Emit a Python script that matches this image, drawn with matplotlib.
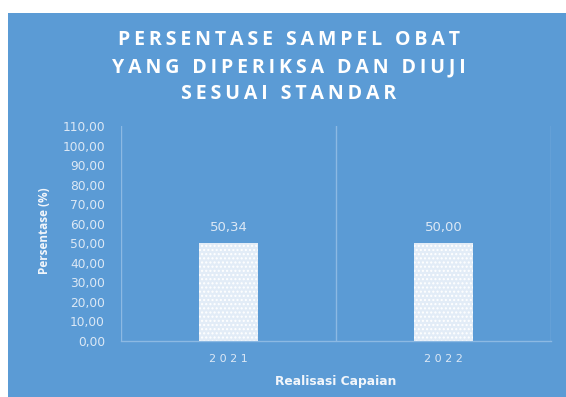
import numpy as np
import matplotlib
matplotlib.use("Agg")
import matplotlib.pyplot as plt

# data
years = ["2021", "2022"]
persen = [50.34, 50.00]
y_ticks = np.arange(0, 111, 10)

BG = "#5b9bd5"
TXT = "#dce8f5"
GRID = "#8cb9e3"

plt.rcParams["font.family"] = ["DejaVu Sans"]

fig = plt.figure(figsize=(5.66, 3.97), dpi=100)
fig.patch.set_facecolor("white")
# blue panel behind the chart
bg = fig.add_axes([8 / 566, 0, 1 - 8 / 566, 1 - 13 / 397], zorder=-1)
bg.set_facecolor(BG)
bg.set_xticks([])
bg.set_yticks([])
for s in bg.spines.values():
    s.set_visible(False)

ax = fig.add_axes([121 / 566, 56 / 397, 430 / 566, 215 / 397])
ax.set_facecolor("none")
x = np.arange(len(years))
bars = ax.bar(x, persen, width=0.27, color="#e2ecf7", edgecolor="white",
              hatch="....", linewidth=0, zorder=3)

for xi, v in zip(x, persen):
    ax.text(xi, v + 4.5, "{:.2f}".format(v).replace(".", ","), ha="center", va="bottom",
            color=TXT, fontsize=9.5)

ax.set_xlim(-0.5, 1.5)
ax.set_ylim(0, 110)
ax.set_yticks(y_ticks)
ax.set_yticklabels(["{:.2f}".format(t).replace(".", ",") for t in y_ticks])
ax.set_xticks(x)
ax.set_xticklabels([" ".join(y) for y in years])
ax.set_xticks([-0.5, 0.5, 1.5], minor=True)
ax.tick_params(axis="both", which="both", length=0, colors=TXT)
ax.tick_params(axis="y", pad=11.5, labelsize=8.8)
ax.tick_params(axis="x", pad=9, labelsize=8)
ax.grid(axis="x", which="minor", color=GRID, linewidth=1, zorder=1)
for s in ["top", "right", "left"]:
    ax.spines[s].set_visible(False)
ax.spines["bottom"].set_color(GRID)
ax.spines["bottom"].set_linewidth(1)

ax.set_xlabel("Realisasi Capaian", color="#f2f6fb", fontsize=8.8, fontweight="bold", labelpad=8)
fig.text(44 / 566, 1 - 231 / 397, "Persentase (%)", rotation=90, ha="center", va="center",
         color="#f2f6fb", fontsize=8.5, fontweight="bold", family=["Open Sans", "DejaVu Sans"])

titles = ["PERSENTASE SAMPEL OBAT",
          "YANG DIPERIKSA DAN DIUJI",
          "SESUAI STANDAR"]
for i, t in enumerate(titles):
    fig.text(289 / 566, 1 - (40 + 27 * i) / 397, "\u2009".join(t), ha="center", va="center",
             color="white", fontsize=14, fontweight="bold", family=["Open Sans", "DejaVu Sans"])

fig.savefig("out.png", dpi=100, facecolor=fig.get_facecolor())
